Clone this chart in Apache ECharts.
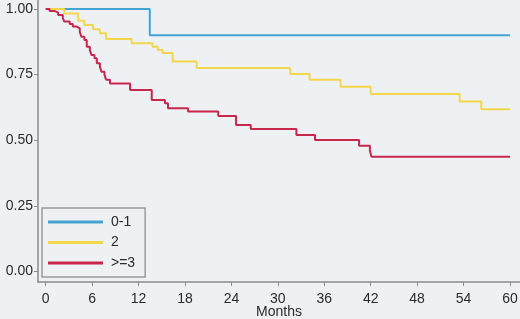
<!DOCTYPE html>
<html>
<head>
<meta charset="utf-8">
<script src="https://cdn.jsdelivr.net/npm/echarts@6/dist/echarts.min.js"></script>
<style>
  html, body { margin: 0; padding: 0; background: #eef1f4; }
  #chart { width: 520px; height: 319px; }
</style>
</head>
<body>
<div id="chart"></div>
<script>
// survival curves, [month, survival] step points
var seriesNames = ["0-1", "2", ">=3"];
var seriesColors = ["#45a3d1", "#f3d64a", "#c8264c"];

var group01 = [[0, 1.0], [13.45, 0.90], [60, 0.90]];

var group2 = [
  [0, 1.0], [2.4, 0.983], [4.2, 0.955], [5.0, 0.939], [6.1, 0.923], [7.0, 0.907],
  [7.8, 0.885], [11.1, 0.869], [13.8, 0.856], [14.5, 0.844], [15.1, 0.832],
  [16.4, 0.80], [19.5, 0.775], [31.6, 0.752], [34.1, 0.730], [38.1, 0.704],
  [42.0, 0.676], [53.5, 0.647], [56.3, 0.618], [60, 0.618]
];

var group3 = [
  [0, 1.0], [0.5, 0.992], [1.2, 0.986], [1.6, 0.977], [2.2, 0.965], [2.4, 0.952],
  [3.1, 0.943], [3.5, 0.933], [4.0, 0.926], [4.4, 0.913], [4.6, 0.894], [5.0, 0.882],
  [5.3, 0.856], [5.7, 0.844], [5.9, 0.825], [6.3, 0.812], [6.6, 0.793], [7.0, 0.780],
  [7.2, 0.761], [7.6, 0.749], [7.8, 0.730], [8.3, 0.716], [10.9, 0.691], [13.7, 0.653],
  [15.4, 0.641], [15.8, 0.622], [18.4, 0.609], [22.3, 0.592], [24.6, 0.558],
  [26.5, 0.543], [32.4, 0.520], [34.8, 0.501], [40.5, 0.479], [41.9, 0.46],
  [42.1, 0.437], [60, 0.437]
];

var xTicks = [0, 6, 12, 18, 24, 30, 36, 42, 48, 54, 60];
var yTicks = [0, 0.25, 0.5, 0.75, 1];

var chart = echarts.init(document.getElementById("chart"));

var allData = [group01, group2, group3];
var seriesData = [];
for (var i = 0; i < allData.length; i++) {
  seriesData.push({
    name: seriesNames[i],
    type: "line",
    step: "end",
    symbol: "none",
    data: allData[i],
    lineStyle: { color: seriesColors[i], width: 2 },
    itemStyle: { color: seriesColors[i] }
  });
}

var axisFont = { fontFamily: "Liberation Sans", fontSize: 14, color: "#2a2a2a" };

var option = {
  backgroundColor: "#eef1f4",
  animation: false,
  grid: { left: 38, right: 0, top: 0, bottom: 37, outerBoundsMode: "none", containLabel: false },
  legend: {
    orient: "vertical",
    left: 42,
    top: 208,
    icon: "rect",
    itemWidth: 55,
    itemHeight: 3,
    itemGap: 4.5,
    padding: [6, 10, 6, 6],
    borderColor: "#9a9a9a",
    borderWidth: 1.5,
    backgroundColor: "#eef1f4",
    textStyle: {
      fontFamily: "Liberation Sans",
      fontSize: 14,
      lineHeight: 16,
      color: "#2a2a2a",
      padding: [0, 0, 0, 3]
    },
    data: seriesNames
  },
  xAxis: {
    type: "value",
    min: -1,
    max: 61.3,
    name: "Months",
    nameLocation: "middle",
    nameGap: 23,
    nameMoveOverlap: false,
    nameTextStyle: Object.assign({ lineHeight: 14 }, axisFont),
    splitLine: { show: false },
    axisLine: { onZero: false, lineStyle: { color: "#8a8a8a", width: 1.5 } },
    axisTick: { show: true, length: 4, customValues: xTicks, lineStyle: { color: "#8a8a8a" } },
    axisLabel: Object.assign({ margin: 10, customValues: xTicks }, axisFont)
  },
  yAxis: {
    type: "value",
    min: -0.04,
    max: 1.034,
    splitLine: { show: false },
    axisLine: { show: true, onZero: false, lineStyle: { color: "#8a8a8a", width: 1.5 } },
    axisTick: { show: true, length: 4, customValues: yTicks, lineStyle: { color: "#8a8a8a" } },
    axisLabel: Object.assign({
      margin: 5,
      customValues: yTicks,
      formatter: function(v) { return v.toFixed(2); }
    }, axisFont)
  },
  series: seriesData
};

chart.setOption(option);
window.addEventListener("resize", function() { chart.resize(); });
</script>
</body>
</html>
